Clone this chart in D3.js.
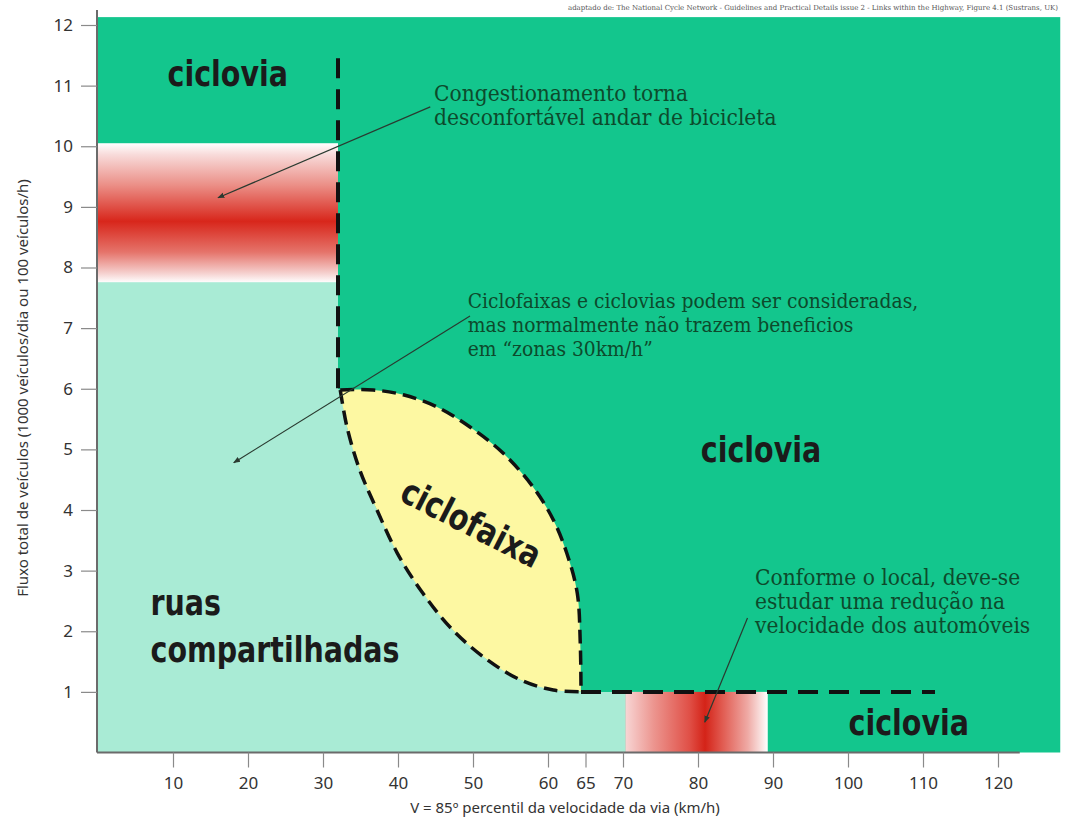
<!DOCTYPE html>
<html>
<head>
<meta charset="utf-8">
<script src="https://cdn.jsdelivr.net/npm/d3@7"></script>
<style>
  html, body { margin: 0; padding: 0; background: #fff; }
  svg { display: block; }
</style>
</head>
<body>
<svg id="chart" width="1068" height="822"></svg>
<script>
// ---------- DATA ----------
const xTicks = [10, 20, 30, 40, 50, 60, 65, 70, 80, 90, 100, 110, 120];
const yTicks = [1, 2, 3, 4, 5, 6, 7, 8, 9, 10, 11, 12];
const plotExtent = { xMax: 128.3, yMax: 12.13 };
const xAxisEnd = 122.9;

// lens ("ciclofaixa") boundaries [speed, flow]
const lensUpper = [[32.3, 5.98], [36.7, 5.98], [40.7, 5.9], [45.2, 5.7], [49.6, 5.37], [54.0, 4.94],
  [58.0, 4.38], [60.7, 3.84], [62.5, 3.29], [63.9, 2.63], [64.3, 1.81], [64.4, 1.0]];
const lensLower = [[32.3, 5.98], [33.2, 5.37], [34.9, 4.66], [37.2, 4.0], [39.9, 3.29], [43.3, 2.63],
  [47.3, 2.02], [51.9, 1.53], [56.3, 1.2], [60.7, 1.03], [64.4, 1.0]];

// shared streets region
const sharedTop = [[0, 0], [0, 7.75], [32, 7.75], [32, 6.0]];
const sharedBottom = [[64.4, 1.0], [70.3, 1.0], [70.3, 0]];

// congestion bands
const bandLeft = { x0: 0, x1: 32, y0: 7.75, y1: 10.05 };
const bandBottom = { x0: 70.3, x1: 89.3, y0: 0, y1: 1 };

// dashed boundaries
const dashVertical = [[32, 11.45], [32, 6.0]];
const dashHorizontal = [[64.4, 1.0], [111.6, 1.0]];

// zone labels
const zoneLabels = [
  { lines: ["ciclovia"], x: 17.3, y: 11.0 },
  { lines: ["ciclovia"], x: 88.4, y: 4.8 },
  { lines: ["ciclovia"], x: 108.1, y: 0.29 },
  { lines: ["ruas", "compartilhadas"], x: 7, y: 2.27 }
];
const lensLabel = { text: "ciclofaixa", x: 49.0, y: 3.6, angle: 27 };

// annotations
const notes = [
  { lines: ["Congestionamento torna", "desconfortável andar de bicicleta"], x: 44.8, y: 10.75, size: 22.5,
    from: [44.3, 10.65], to: [16.0, 9.15] },
  { lines: ["Ciclofaixas e ciclovias podem ser consideradas,", "mas normalmente não trazem beneficios", "em “zonas 30km/h”"],
    x: 49.3, y: 7.33, size: 20.8, from: [49.6, 7.2], to: [18.1, 4.78] },
  { lines: ["Conforme o local, deve-se", "estudar uma redução na", "velocidade dos automóveis"],
    x: 87.6, y: 2.76, size: 22.5, from: [86.6, 2.22], to: [80.9, 0.5] }
];
const sourceText = "adaptado de: The National Cycle Network - Guidelines and Practical Details issue 2 - Links within the Highway, Figure 4.1 (Sustrans, UK)";
const xLabel = "V = 85º percentil da velocidade da via (km/h)";
const yLabel = "Fluxo total de veículos (1000 veículos/dia ou 100 veículos/h)";

// ---------- DRAW ----------
const svg = d3.select("#chart");
const x = d3.scaleLinear().domain([0, 120]).range([98, 998]);
const y = d3.scaleLinear().domain([0, 12]).range([752.5, 25]);

const GREEN = "#13c68d", TEAL = "#a9ebd5", YELLOW = "#fdf8a2";

const defs = svg.append("defs");
const gL = defs.append("linearGradient").attr("id", "gradLeft").attr("x1", 0).attr("y1", 0).attr("x2", 0).attr("y2", 1);
[[0, "#ffffff"], [0.08, "#f8dcdb"], [0.3, "#eb8f87"], [0.56, "#d8261b"], [0.78, "#e5736a"], [0.93, "#f5cfcd"], [1, "#ffffff"]]
  .forEach(([o, c]) => gL.append("stop").attr("offset", o).attr("stop-color", c));
const gB = defs.append("linearGradient").attr("id", "gradBottom").attr("x1", 0).attr("y1", 0).attr("x2", 1).attr("y2", 0);
[[0, "#f8d6d5"], [0.2, "#ec958f"], [0.45, "#e05047"], [0.56, "#d42318"], [0.68, "#e15a50"], [0.86, "#efaaa5"], [1, "#ffffff"]]
  .forEach(([o, c]) => gB.append("stop").attr("offset", o).attr("stop-color", c));
defs.append("marker").attr("id", "arrow").attr("viewBox", "0 0 10 10").attr("refX", 9).attr("refY", 5)
  .attr("markerWidth", 7).attr("markerHeight", 7).attr("orient", "auto-start-reverse").attr("markerUnits", "userSpaceOnUse")
  .append("path").attr("d", "M0,1 L10,5 L0,9 z").attr("fill", "#2a3a30");

// background (ciclovia)
svg.append("rect").attr("x", x(0)).attr("y", y(plotExtent.yMax))
  .attr("width", x(plotExtent.xMax) - x(0)).attr("height", y(0) - y(plotExtent.yMax)).attr("fill", GREEN);

// shared streets region
const line = d3.line().x(d => x(d[0])).y(d => y(d[1]));
svg.append("path").attr("d", line(sharedTop.concat(lensLower, sharedBottom))).attr("fill", TEAL);

// congestion bands
[[bandLeft, "url(#gradLeft)"], [bandBottom, "url(#gradBottom)"]].forEach(([b, f]) => {
  svg.append("rect").attr("x", x(b.x0)).attr("y", y(b.y1)).attr("width", x(b.x1) - x(b.x0))
    .attr("height", y(b.y0) - y(b.y1)).attr("fill", f);
});

// lens
const curve = d3.line().x(d => x(d[0])).y(d => y(d[1])).curve(d3.curveCatmullRom);
const lensPath = curve(lensUpper) + "L" + curve(lensLower.slice().reverse()).slice(1);
svg.append("path").attr("d", lensPath).attr("fill", YELLOW);
[lensUpper, lensLower].forEach(d => {
  svg.append("path").attr("d", curve(d)).attr("fill", "none").attr("stroke", "#111")
    .attr("stroke-width", 3.5).attr("stroke-dasharray", "14,7");
});

// dashed boundaries
[dashVertical, dashHorizontal].forEach(d => {
  svg.append("path").attr("d", line(d)).attr("fill", "none").attr("stroke", "#111")
    .attr("stroke-width", 4).attr("stroke-dasharray", "20,11");
});

// axes
const axisColor = "#6b6b6b";
svg.append("line").attr("x1", x(0) - 1).attr("x2", x(0) - 1).attr("y1", 10).attr("y2", y(0))
  .attr("stroke", axisColor).attr("stroke-width", 2);
svg.append("line").attr("x1", x(0) - 1).attr("x2", x(xAxisEnd)).attr("y1", y(0)).attr("y2", y(0))
  .attr("stroke", axisColor).attr("stroke-width", 2);

const yAx = svg.append("g").attr("transform", `translate(${x(0) - 1},0)`)
  .call(d3.axisLeft(y).tickValues(yTicks).tickSize(16).tickPadding(8).tickFormat(d3.format("d")));
const xAx = svg.append("g").attr("transform", `translate(0,${y(0)})`)
  .call(d3.axisBottom(x).tickValues(xTicks).tickSize(15).tickPadding(9).tickFormat(d3.format("d")));
[yAx, xAx].forEach(g => {
  g.select(".domain").remove();
  g.selectAll(".tick line").attr("stroke", "#8a8a8a").attr("stroke-width", 1.2);
  g.selectAll(".tick text").attr("fill", "#333").style("font-family", "'Noto Sans', sans-serif").style("font-size", "17px");
});

// axis labels
svg.append("text").attr("x", 565).attr("y", 813).attr("text-anchor", "middle")
  .style("font-family", "'Noto Sans', sans-serif").style("font-size", "15px").attr("fill", "#333").text(xLabel);
svg.append("text").attr("transform", `translate(28,${388}) rotate(-90)`).attr("text-anchor", "middle")
  .style("font-family", "'Noto Sans', sans-serif").style("font-size", "15px").attr("fill", "#333").text(yLabel);

// source
svg.append("text").attr("x", 1058).attr("y", 10).attr("text-anchor", "end")
  .style("font-family", "'DejaVu Serif', serif").style("font-size", "7px").attr("fill", "#555").text(sourceText);

// zone labels
const zoneFont = "'DejaVu Sans Condensed', 'DejaVu Sans', sans-serif";
const SX = 0.88;
zoneLabels.forEach(z => {
  const t = svg.append("text").attr("transform", `translate(${x(z.x)},${y(z.y)}) scale(${SX},1)`)
    .attr("text-anchor", z.lines.length > 1 ? "start" : "middle")
    .style("font-family", zoneFont).style("font-weight", "bold").style("font-stretch", "condensed")
    .style("font-size", "36px").attr("fill", "#1b1b1b");
  z.lines.forEach((l, i) => t.append("tspan").attr("x", 0).attr("dy", i === 0 ? 0 : 47).text(l));
});
svg.append("text").attr("transform", `translate(${x(lensLabel.x)},${y(lensLabel.y)}) rotate(${lensLabel.angle}) scale(${SX},1)`)
  .attr("text-anchor", "middle").style("font-family", zoneFont).style("font-weight", "bold")
  .style("font-stretch", "condensed").style("font-size", "36px").attr("fill", "#1b1b1b").text(lensLabel.text);

// annotations
notes.forEach(n => {
  svg.append("line").attr("x1", x(n.from[0])).attr("y1", y(n.from[1])).attr("x2", x(n.to[0])).attr("y2", y(n.to[1]))
    .attr("stroke", "#2a3a30").attr("stroke-width", 1.2).attr("marker-end", "url(#arrow)");
  const t = svg.append("text").attr("x", x(n.x)).attr("y", y(n.y))
    .style("font-family", "'DejaVu Serif Condensed', 'DejaVu Serif', serif").style("font-stretch", "condensed")
    .style("font-size", n.size + "px").attr("fill", "#0d4a2c");
  n.lines.forEach((l, i) => t.append("tspan").attr("x", x(n.x)).attr("dy", i === 0 ? 0 : 24).text(l));
});
</script>
</body>
</html>
